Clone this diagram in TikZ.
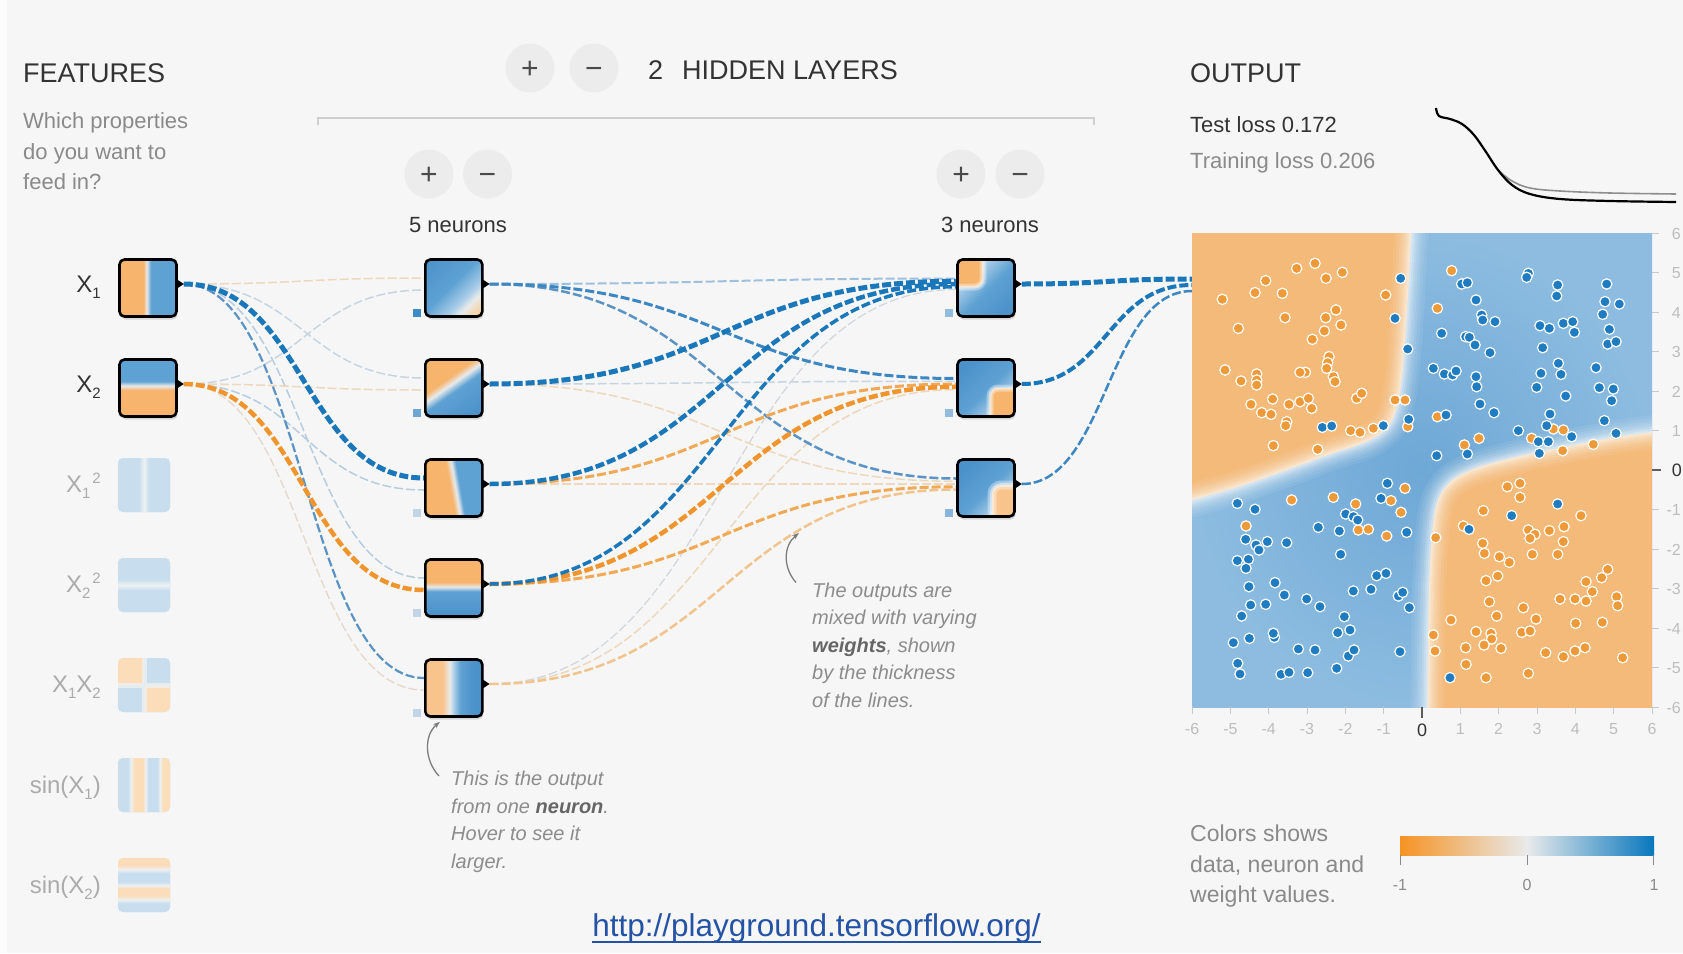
\documentclass[tikz,border=0pt]{standalone}
\usepackage{fontspec}
\setmainfont{Liberation Sans}
\usetikzlibrary{calc,arrows.meta}

% ---------- palette ----------
\definecolor{bg}{HTML}{F6F6F6}
\definecolor{ink}{HTML}{333333}
\definecolor{muted}{HTML}{8A8A8A}
\definecolor{faint}{HTML}{BDBDBD}
\definecolor{featgray}{HTML}{ABABAB}
\definecolor{btn}{HTML}{ECECEC}
\definecolor{btnink}{HTML}{4A4A4A}
\definecolor{rule}{HTML}{D0D0D0}
\definecolor{pgor}{HTML}{F59322}
\definecolor{pgbl}{HTML}{0877BD}
\definecolor{pgwh}{HTML}{E8EAEB}
\definecolor{hor}{HTML}{F6B46C}
\definecolor{hol}{HTML}{F8C48C}
\definecolor{hop}{HTML}{F3D6B0}
\definecolor{hoq}{HTML}{F1C893}
\definecolor{hbl}{HTML}{5EA1D3}
\definecolor{hbd}{HTML}{4B91CA}
\definecolor{hbx}{HTML}{A9CDE8}
\definecolor{qbl}{HTML}{C8DDEE}
\definecolor{qor}{HTML}{FBDDBA}
\definecolor{qwh}{HTML}{EEF1F2}
\definecolor{por}{HTML}{F4BA7A}
\definecolor{pbl}{HTML}{8DBCE0}
\definecolor{pbd}{HTML}{6EA8D6}
\definecolor{dotor}{HTML}{EF9A38}
\definecolor{dotbl}{HTML}{1F7CC0}
\definecolor{urlblue}{HTML}{2453A6}
\definecolor{annot}{HTML}{8C8C8C}
\definecolor{annotb}{HTML}{666666}
\definecolor{annotline}{HTML}{7C7C7C}
\definecolor{tickgray}{HTML}{C8C8C8}
\definecolor{lossgray}{HTML}{8E8E8E}
% bias squares
\definecolor{bsa}{HTML}{3E8CC6}
\definecolor{bsb}{HTML}{6FA7D3}
\definecolor{bsc}{HTML}{C3D5E4}
\definecolor{bsd}{HTML}{93BBDB}
\definecolor{bse}{HTML}{86B4DA}
% weights
\definecolor{lkOa}{HTML}{EDD8BD}
\definecolor{lkOb}{HTML}{E5D8CA}
\definecolor{lkOc}{HTML}{F1C48E}
\definecolor{lkOd}{HTML}{F2A955}
\definecolor{lkOe}{HTML}{F0952D}
\definecolor{lkBa}{HTML}{C7D5E1}
\definecolor{lkBb}{HTML}{B6CCDF}
\definecolor{lkBc}{HTML}{9DC0DE}
\definecolor{lkBd}{HTML}{5A93C4}
\definecolor{lkBe}{HTML}{3C87C2}
\definecolor{lkBf}{HTML}{1A77BA}
\definecolor{lkGa}{HTML}{D0D6DB}

\newcommand\fsz[1]{\fontsize{#1}{#1}\selectfont}
\newcommand\sbs[1]{\raisebox{-6pt}{\fontsize{15}{15}\selectfont #1}}
\newcommand\sps[1]{\raisebox{9pt}{\fontsize{15}{15}\selectfont #1}}

% ---------- neuron heat maps ----------
\pgfdeclarehorizontalshading{sXa}{100bp}{color(0bp)=(hor); color(46bp)=(hor); color(49bp)=(pgwh); color(52.5bp)=(hbl); color(100bp)=(hbl)}
\pgfdeclarehorizontalshading{sXb}{100bp}{color(0bp)=(hbl); color(44bp)=(hbl); color(48bp)=(pgwh); color(52bp)=(hor); color(100bp)=(hor)}
\pgfdeclarehorizontalshading{sHa}{100bp}{color(0bp)=(hbd); color(15bp)=(hbd); color(47bp)=(hbl); color(63bp)=(hbx); color(70bp)=(pgwh); color(78bp)=(hop); color(100bp)=(hoq)}
\pgfdeclarehorizontalshading{sHb}{100bp}{color(0bp)=(hor); color(40bp)=(hor); color(46bp)=(pgwh); color(53bp)=(hbl); color(80bp)=(hbd); color(100bp)=(hbd)}
\pgfdeclarehorizontalshading{sHc}{100bp}{color(0bp)=(hor); color(47bp)=(hor); color(51.5bp)=(pgwh); color(55.5bp)=(hbl); color(100bp)=(hbl)}
\pgfdeclarehorizontalshading{sHd}{100bp}{color(0bp)=(hor); color(45bp)=(hor); color(49bp)=(pgwh); color(53bp)=(hbl); color(75bp)=(hbd); color(100bp)=(hbd)}
\pgfdeclarehorizontalshading{sHe}{100bp}{color(0bp)=(hol); color(40bp)=(hol); color(46.5bp)=(pgwh); color(50bp)=(hbx); color(56bp)=(hbl); color(67.5bp)=(hbd); color(100bp)=(hbd)}
\pgfdeclarehorizontalshading{sKa}{100bp}{color(0bp)=(hbx); color(35bp)=(hbx); color(52bp)=(hbl); color(75bp)=(hbd); color(100bp)=(hbd)}
\pgfdeclarehorizontalshading{sKb}{100bp}{color(0bp)=(hbd); color(25bp)=(hbd); color(52bp)=(hbl); color(68bp)=(hbx); color(100bp)=(hbx)}
\pgfdeclarehorizontalshading{sFa}{100bp}{color(0bp)=(qbl); color(45bp)=(qbl); color(50bp)=(qwh); color(55bp)=(qbl); color(100bp)=(qbl)}
\pgfdeclarehorizontalshading{sFc}{100bp}{color(0bp)=(qbl); color(34.5bp)=(qbl); color(37.5bp)=(qwh); color(40.5bp)=(qor); color(49bp)=(qor); color(51.5bp)=(qwh); color(54bp)=(qbl); color(63bp)=(qbl); color(65.5bp)=(qwh); color(68bp)=(qor); color(100bp)=(qor)}
\pgfdeclarehorizontalshading{sFd}{100bp}{color(0bp)=(qor); color(32bp)=(qor); color(35.5bp)=(qwh); color(39bp)=(qbl); color(47bp)=(qbl); color(50.5bp)=(qwh); color(53bp)=(qor); color(60bp)=(qor); color(63.5bp)=(qwh); color(67bp)=(qbl); color(100bp)=(qbl)}
% colour legend bar
\pgfdeclarehorizontalshading{sBar}{100bp}{color(0bp)=(pgor); color(25bp)=(pgor); color(50bp)=(pgwh); color(75bp)=(pgbl); color(100bp)=(pgbl)}

% corner-patch neurons of the second hidden layer
\newcommand\patKa{%
  \shade[shading=sKa, shading angle=-45] (-31,-31) rectangle (31,31);
  \fill[hor, rounded corners=8] (-34,-34) rectangle (-3,-1);
  \draw[white, rounded corners=8, line width=7pt, opacity=0.35,
        postaction={draw, line width=3pt, opacity=0.45}] (-3,-34) -- (-3,-1) -- (-34,-1);}
\newcommand\patKb{%
  \shade[shading=sKb, shading angle=-45] (-31,-31) rectangle (31,31);
  \fill[hor, rounded corners=8] (4,0) rectangle (34,34);
  \draw[white, rounded corners=8, line width=7pt, opacity=0.35,
        postaction={draw, line width=3pt, opacity=0.45}] (4,34) -- (4,0) -- (34,0);}
\newcommand\patKc{%
  \shade[shading=sKb, shading angle=-45] (-31,-31) rectangle (31,31);
  \fill[hol, rounded corners=9] (6,-3) rectangle (34,34);
  \draw[white, rounded corners=9, line width=9pt, opacity=0.35,
        postaction={draw, line width=4pt, opacity=0.45}] (6,34) -- (6,-3) -- (34,-3);}
\newcommand\patFe{%
  \fill[qor] (-30,-30) rectangle (0,0);
  \fill[qbl] (0,-30) rectangle (30,0);
  \fill[qbl] (-30,0) rectangle (0,30);
  \fill[qor] (0,0) rectangle (30,30);
  \draw[qwh, line width=5pt, opacity=0.8] (0,-30) -- (0,30) (-30,0) -- (30,0);}

\tikzset{
  nbox/.style={rectangle, rounded corners=5pt, minimum size=57pt, inner sep=0pt,
    draw=black, line width=2.6pt,
    preaction={fill=black, opacity=0.13, transform canvas={xshift=1pt, yshift=-3pt}}},
  fbox/.style={rectangle, rounded corners=5pt, minimum width=52pt, minimum height=54pt,
    inner sep=0pt, fill=qbl},
  shadebox/.style 2 args={path picture={\shade[shading=#1, shading angle=#2]
    (path picture bounding box.south west) rectangle (path picture bounding box.north east);}},
  pp/.style={path picture={\begin{scope}[shift={(path picture bounding box.center)}]#1\end{scope}}},
  txt/.style={inner sep=0pt, anchor=base west},
  flabel/.style={inner sep=0pt, anchor=base east, font=\fsz{24}},
  btnc/.style={circle, fill=btn, minimum size=49pt, inner sep=0pt, text=btnink,
    font=\fsz{30}, text height=21pt, text depth=0pt},
  wire/.style={dash pattern=on 9pt off 3pt, line cap=butt},
  annarrow/.style={draw=annotline, line width=1.3pt, -{Stealth[length=7pt,width=5pt]}},
  axlab/.style={inner sep=0pt, font=\fsz{16}, text=faint},
  softedge/.style={white, line width=34pt, opacity=0.07,
    postaction={draw, line width=28pt, opacity=0.08},
    postaction={draw, line width=22pt, opacity=0.1},
    postaction={draw, line width=17pt, opacity=0.12},
    postaction={draw, line width=12pt, opacity=0.15},
    postaction={draw, line width=8pt, opacity=0.2},
    postaction={draw, line width=4pt, opacity=0.25}},
}
% one weighted connection, drawn as a horizontal-tangent cubic
\newcommand\lk[5]{\draw[wire, draw=#3, line width=#4pt] (#1) .. controls +(#5,0) and +(-#5,0) .. (#2);}

\pgfdeclarelayer{back}
\pgfdeclarelayer{links}
\pgfsetlayers{back,links,main}

\begin{document}
\begin{tikzpicture}[x=1pt, y=-1pt]
\useasboundingbox (0,0) rectangle (1683,953);
\begin{pgfonlayer}{back}
  \fill[bg] (0,0) rectangle (1683,953);
  \fill[white!70!bg] (0,0) rectangle (7,953);
\end{pgfonlayer}

% ---------- headings ----------
\node[txt, font=\fsz{27}, text=ink] (feat) at (23,82) {FEATURES};
\node[txt, font=\fsz{22}, text=muted] (q1) at (23,128) {Which properties};
\node[txt, font=\fsz{22}, text=muted] (q2) at (23,159) {do you want to};
\node[txt, font=\fsz{22}, text=muted] (q3) at (23,189) {feed in?};

\node[btnc] (addlayer) at (530,68) {+};
\node[btnc] (remlayer) at (594,68) {−};
\node[txt, font=\fsz{27}, text=ink] (layers) at (648,79) {2\hspace{19pt}HIDDEN LAYERS};
\draw[rule, line width=1.5pt] (318,125) -- (318,118) -- (1094,118) -- (1094,125);

\node[btnc] (add1) at (429,174) {+};
\node[btnc] (rem1) at (487.5,174) {−};
\node[btnc] (add2) at (961,174) {+};
\node[btnc] (rem2) at (1020,174) {−};
\node[inner sep=0pt, anchor=base, font=\fsz{22}, text=ink] (n5) at (458,232) {5 neurons};
\node[inner sep=0pt, anchor=base, font=\fsz{22}, text=ink] (n3) at (990,232) {3 neurons};

\node[txt, font=\fsz{27}, text=ink] (outtitle) at (1190,82) {OUTPUT};
\node[txt, font=\fsz{22}, text=ink] (testloss) at (1190,132) {Test loss 0.172};
\node[txt, font=\fsz{22}, text=muted] (trainloss) at (1190,168) {Training loss 0.206};

% loss curves
\draw[lossgray, line width=1.6pt] plot[smooth, tension=0.6] coordinates {(1498,170) (1512,181) (1530,188) (1560,191) (1610,193) (1676,194)};
\draw[black, line width=2.2pt] plot[smooth, tension=0.6] coordinates {(1436,108) (1439,116) (1450,119) (1462,124) (1474,135) (1486,152) (1498,170) (1512,185) (1530,194) (1560,199) (1610,201) (1676,202)};

% ---------- input features ----------
\node[flabel, text=ink] (lx1) at (101,292) {X\sbs{1}};
\node[flabel, text=ink] (lx2) at (101,392) {X\sbs{2}};
\node[flabel, text=featgray] (lx3) at (101,492) {X\sbs{1}\hspace{2pt}\sps{2}};
\node[flabel, text=featgray] (lx4) at (101,592) {X\sbs{2}\hspace{2pt}\sps{2}};
\node[flabel, text=featgray] (lx5) at (101,692) {X\sbs{1}X\sbs{2}};
\node[flabel, text=featgray] (lx6) at (101,793) {sin(X\sbs{1})};
\node[flabel, text=featgray] (lx7) at (101,893) {sin(X\sbs{2})};

\node[nbox, shadebox={sXa}{0}] (in1) at (148,288) {};
\node[nbox, shadebox={sXb}{-90}] (in2) at (148,388) {};
\node[fbox, shadebox={sFa}{0}] (f3) at (144,485) {};
\node[fbox, shadebox={sFa}{-90}] (f4) at (144,585) {};
\node[fbox, pp={\patFe}] (f5) at (144,685) {};
\node[fbox, shadebox={sFc}{0}] (f6) at (144,785) {};
\node[fbox, shadebox={sFd}{-90}] (f7) at (144,885) {};

% ---------- hidden layers ----------
\node[nbox, shadebox={sHa}{-45}] (h1) at (453.8,288) {};
\node[nbox, shadebox={sHb}{-55}] (h2) at (453.8,388) {};
\node[nbox, shadebox={sHc}{10}] (h3) at (453.8,488) {};
\node[nbox, shadebox={sHd}{-90}] (h4) at (453.8,588) {};
\node[nbox, shadebox={sHe}{0}] (h5) at (453.8,688) {};
\node[nbox, pp={\patKa}] (k1) at (986,288) {};
\node[nbox, pp={\patKb}] (k2) at (986,388) {};
\node[nbox, pp={\patKc}] (k3) at (986,488) {};

% output tips and bias squares
\foreach \n in {in1,in2,h1,h2,h3,h4,h5,k1,k2,k3}
  \fill[black] ($(\n.east)+(-1.5,-9)$) -- ++(7.5,5) -- ++(-7.5,5) -- cycle;
\foreach \n/\c in {h1/bsa,h2/bsb,h3/bsc,h4/bsc,h5/bsc,k1/bsd,k2/bsd,k3/bse}
  \fill[\c] ($(\n.south west)+(-11,-1)$) rectangle ++(8,-8);

% ---------- output plot ----------
\node[inner sep=0pt, outer sep=0pt, minimum width=460pt, minimum height=474pt, anchor=north west] (plot) at (1192,233) {};
\begin{scope}
  \clip (1192,233) rectangle (1652,707);
  \shade[inner color=pbd, outer color=pbl] (1192,233) rectangle (1652,707);
  \begin{scope}[shift={(1180,220)}, x=0.33333pt, y=-0.33333pt]
    \fill[por] (0,0) -- plot[smooth, tension=0.6] coordinates {(695,0) (688,150) (678,320) (666,470) (650,565) (620,625) (560,665) (450,703) (320,750) (170,802) (0,850)} -- cycle;
    \fill[por] (1520,1520) -- (1520,625) -- plot[smooth, tension=0.6] coordinates {(1520,628) (1420,636) (1300,653) (1150,681) (1000,713) (880,747) (806,790) (768,860) (752,1000) (745,1200) (742,1520)} -- cycle;
    \draw[softedge]
      plot[smooth, tension=0.6] coordinates {(695,0) (688,150) (678,320) (666,470) (650,565) (620,625) (560,665) (450,703) (320,750) (170,802) (0,850)};
    \draw[softedge]
      plot[smooth, tension=0.6] coordinates {(1520,628) (1420,636) (1300,653) (1150,681) (1000,713) (880,747) (806,790) (768,860) (752,1000) (745,1200) (742,1520)};
  \end{scope}
\end{scope}
\begin{scope}[shift={(1180,220)}, x=0.33333pt, y=-0.33333pt]
  \foreach \x/\y in {127/238,175/325,225/218,257/182,307/220,315/293,350/145,405/130,438/175,487/157,437/293,468/270,483/315,433/333,397/358,447/410,443/428,440/445,460/470,465/485,135/450,183/483,230/462,230/480,230/495,278/537,213/553,245/578,273/583,327/553,360/545,376/457,360/457,385/535,395/565,320/605,317/617,280/677,413/688,512/632,540/637,580/625,530/535,545/520,617/225,645/540,675/540,683/620,815/152,772/265,772/590,853/675,897/655,1055/655,1120/627,1150/630,1148/692,1240/673,198/918,335/840,460/832,527/852,535/930,565/928,633/842,675/805,663/877,620/948,982/800,1020/790,1020/832,910/872,1203/887,850/918,767/953,1045/930,1065/943,1050/955,1108/932,1152/920,1150/965,908/970,913/1000,958/1010,988/1027,1057/1003,1133/1003,918/1082,953/1068,928/1145,950/1188,1030/1163,1068/1197,1140/1137,1185/1137,1218/1143,1218/1085,1237/1115,1283/1048,1265/1073,1310/1130,1313/1157,813/1200,888/1235,933/1240,935/1257,912/1275,857/1283,963/1285,760/1245,765/1293,858/1333,918/1373,1025/1237,1050/1233,1097/1298,1150/1310,1185/1293,1215/1283,1187/1210,1267/1207,1328/1313,1045/1360}
    \filldraw[fill=dotor, draw=white, line width=1.2pt] (\x,\y) circle[radius=5.2pt];
  \foreach \x/\y in {427/622,455/618,610/617,645/295,662/175,683/387,686/598,845/192,862/188,888/240,905/285,908/300,945/305,785/340,857/350,868/352,885/375,930/398,760/445,793/462,818/465,828/453,888/470,890/500,900/552,942/578,798/585,770/707,862/702,1045/160,1040/172,1133/195,1130/228,1080/317,1108/325,1150/310,1178/305,1183/337,1088/383,1135/430,1143/463,1083/460,1070/502,1157/528,1110/582,1100/617,1015/632,1075/665,1078/700,1105/665,1175/650,1280/192,1275/245,1318/252,1268/283,1288/328,1283/372,1308/365,1248/443,1258/503,1300/507,1295/542,1273/602,1308/640,172/850,225/868,497/882,520/890,533/900,415/922,478/933,482/1003,197/958,228/975,237/990,262/965,320/968,172/1022,205/1018,198/1045,207/1100,285/1088,313/1125,212/1155,257/1153,380/1137,420/1160,185/1188,160/1268,208/1255,283/1252,280/1240,173/1330,180/1362,303/1363,327/1357,355/1287,405/1290,383/1358,470/1345,473/1238,510/1230,493/1190,505/1308,522/1290,520/1113,573/1108,590/1067,618/1060,655/1128,668/1117,688/1163,660/1295,622/790,603/835,680/937,995/887,1133/852,867/928,810/1373}
    \filldraw[fill=dotbl, draw=white, line width=1.2pt] (\x,\y) circle[radius=5.2pt];
\end{scope}

% plot axes
\foreach \v in {-6,-5,-4,-3,-2,-1,1,2,3,4,5,6} {
  \draw[tickgray, line width=1pt] (1652,{470-39.5*\v}) -- ++(7,0);
  \node[axlab, anchor=base east] (ry\v) at (1681,{470-39.5*\v+6}) {\v};
  \draw[tickgray, line width=1pt] ({1422+38.33*\v},707) -- ++(0,7);
  \node[axlab, anchor=base] (rx\v) at ({1422+38.33*\v},734) {\v};
}
\draw[ink!80, line width=1.2pt] (1652,470) -- ++(9,0);
\node[axlab, anchor=base east, text=ink, font=\fsz{18}] (ry0) at (1682,476) {0};
\draw[ink!80, line width=1.2pt] (1422,707) -- ++(0,11);
\node[axlab, anchor=base, text=ink, font=\fsz{18}] (rx0) at (1422,736) {0};

% ---------- connection anchors ----------
\foreach \n in {in1,in2,h1,h2,h3,h4,h5,k1,k2,k3}
  \coordinate (\n-o) at ($(\n.east)+(6,-4)$);
\foreach \n in {h1,h2,h3,h4,h5} {
  \coordinate (\n-i0) at ($(\n.west)+(0,-10)$);
  \coordinate (\n-i1) at ($(\n.west)+(0,2)$);
}
\foreach \n in {k1,k2,k3}
  \foreach \i in {0,1,2,3,4}
    \coordinate (\n-i\i) at ($(\n.west)+(0,{-4+(\i-2)*2.75})$);
\coordinate (out-i0) at ($(plot.north west)+(0,46)$);
\coordinate (out-i1) at ($(plot.north west)+(0,52)$);
\coordinate (out-i2) at ($(plot.north west)+(0,58)$);

% ---------- weighted connections ----------
\begin{pgfonlayer}{links}
  % inputs -> first hidden layer
  \lk{in1-o}{h1-i0}{lkOa}{1.5}{120}
  \lk{in1-o}{h2-i0}{lkBa}{1.5}{120}
  \lk{in1-o}{h4-i0}{lkBb}{1.5}{120}
  \lk{in2-o}{h1-i1}{lkBa}{1.5}{120}
  \lk{in2-o}{h2-i1}{lkOa}{1.5}{120}
  \lk{in2-o}{h3-i1}{lkBb}{1.5}{120}
  \lk{in2-o}{h5-i1}{lkOb}{1.3}{120}
  \lk{in1-o}{h5-i0}{lkBd}{2.2}{120}
  \lk{in2-o}{h4-i1}{lkOe}{4.5}{120}
  \lk{in1-o}{h3-i0}{lkBf}{5}{120}
  % first -> second hidden layer
  \lk{h5-o}{k1-i4}{lkGa}{1.2}{233}
  \lk{h2-o}{k2-i1}{lkBa}{1.5}{233}
  \lk{h2-o}{k3-i1}{lkOa}{1.5}{233}
  \lk{h3-o}{k3-i2}{lkOa}{1.8}{233}
  \lk{h5-o}{k2-i4}{lkOa}{1.5}{233}
  \lk{h1-o}{k1-i0}{lkBc}{2}{233}
  \lk{h5-o}{k3-i4}{lkOc}{2.5}{233}
  \lk{h1-o}{k3-i0}{lkBd}{2.5}{233}
  \lk{h1-o}{k2-i0}{lkBe}{3}{233}
  \lk{h3-o}{k2-i2}{lkOd}{3}{233}
  \lk{h4-o}{k3-i3}{lkOd}{3}{233}
  \lk{h4-o}{k2-i3}{lkOe}{4.5}{233}
  \lk{h4-o}{k1-i3}{lkBf}{3.5}{233}
  \lk{h3-o}{k1-i2}{lkBf}{4.5}{233}
  \lk{h2-o}{k1-i1}{lkBf}{5}{233}
  % second hidden layer -> output
  \lk{k3-o}{out-i2}{lkBe}{2.5}{85}
  \lk{k2-o}{out-i1}{lkBf}{4}{85}
  \lk{k1-o}{out-i0}{lkBf}{5}{85}
\end{pgfonlayer}

% ---------- annotations ----------
\node[inner sep=0pt, anchor=north west, align=left, text=annot,
      font=\fontsize{20}{27.5}\selectfont\itshape] (ann1) at (451,771)
  {This is the output\\from one \textbf{\color{annotb}neuron}.\\Hover to see it\\larger.};
\coordinate (ann1-s) at ($(ann1.north west)+(-12,5)$);
\coordinate (ann1-t) at ($(h5.south west)+(16,4)$);
\draw[annarrow] (ann1-s) .. controls +(-15,-16) and +(-16,13) .. (ann1-t);

\node[inner sep=0pt, anchor=north west, align=left, text=annot,
      font=\fontsize{20}{27.5}\selectfont\itshape] (ann2) at (812,582.5)
  {The outputs are\\mixed with varying\\\textbf{\color{annotb}weights}, shown\\by the thickness\\of the lines.};
\coordinate (ann2-s) at ($(ann2.north west)+(-16,0)$);
\coordinate (ann2-t) at (799,533);
\draw[annarrow] (ann2-s) .. controls +(-14,-16) and +(-15,12) .. (ann2-t);

% ---------- colour legend ----------
\node[txt, font=\fsz{23}, text=muted] (leg1) at (1190,841) {Colors shows};
\node[txt, font=\fsz{23}, text=muted] (leg2) at (1190,872) {data, neuron and};
\node[txt, font=\fsz{23}, text=muted] (leg3) at (1190,902) {weight values.};
\shade[shading=sBar] (1400,836) rectangle (1654,855);
\draw[muted, line width=1pt] (1400.5,855) -- ++(0,10) (1527,855) -- ++(0,10) (1653.5,855) -- ++(0,10);
\node[axlab, anchor=base, text=muted] (cb-1) at (1400,890) {-1};
\node[axlab, anchor=base, text=muted] (cb0) at (1527,890) {0};
\node[axlab, anchor=base, text=muted] (cb1) at (1654,890) {1};

% ---------- link ----------
\node[inner sep=0pt, anchor=base, text=urlblue, font=\fsz{31.5}] (url) at (816.5,936) {http://playground.tensorflow.org/};
\draw[urlblue, line width=1.4pt] ($(url.base west)+(0,6)$) -- ($(url.base east)+(0,6)$);
\end{tikzpicture}
\end{document}
